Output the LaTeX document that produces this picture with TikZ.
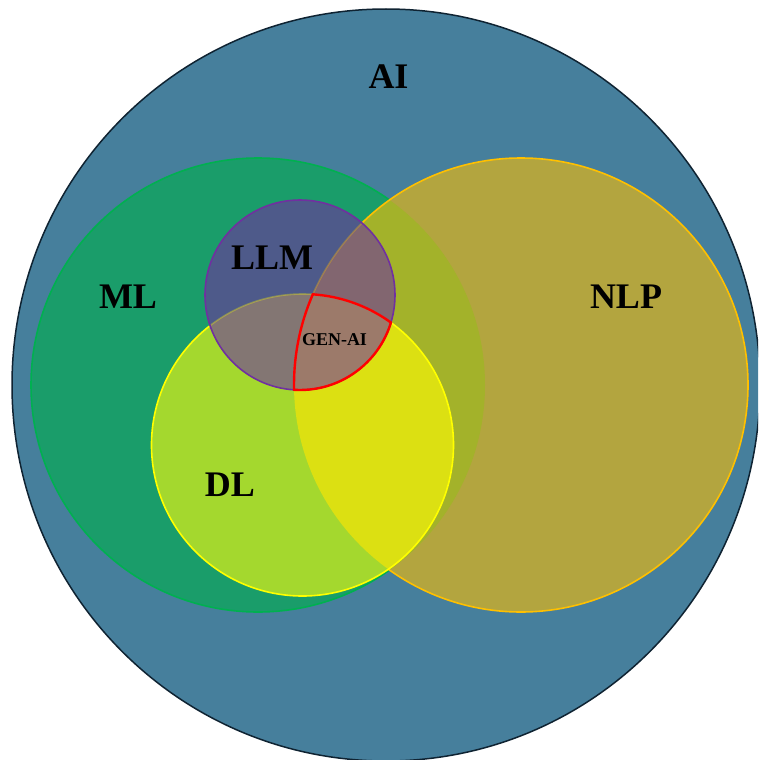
\documentclass[tikz,border=0pt]{standalone}
\usepackage{fontspec}
\setmainfont{Liberation Serif}
\definecolor{aiC}{RGB}{70,127,156}
\definecolor{aiE}{RGB}{15,35,50}
\definecolor{mlC}{RGB}{26,157,106}
\definecolor{mlE}{RGB}{0,176,80}
\definecolor{nlpC}{RGB}{179,165,63}
\definecolor{nlpE}{RGB}{255,192,0}
\definecolor{mlnlpC}{RGB}{163,178,42}
\definecolor{dlC}{RGB}{164,216,46}
\definecolor{dlE}{RGB}{255,255,0}
\definecolor{dlnlpC}{RGB}{220,224,18}
\definecolor{llmC}{RGB}{78,90,138}
\definecolor{llmE}{RGB}{112,48,160}
\definecolor{llmnlpC}{RGB}{130,102,112}
\definecolor{llmdlC}{RGB}{131,118,115}
\definecolor{genC}{RGB}{156,122,106}
\begin{document}
\begin{tikzpicture}[x=1pt,y=-1pt,
  lab/.style={font=\fontsize{36}{40}\selectfont\bfseries, anchor=base, inner sep=0pt, text=black},
  smalllab/.style={font=\fontsize{18}{20}\selectfont\bfseries, anchor=base, inner sep=0pt, text=black},
  edge/.style={line width=1.6pt}]
\useasboundingbox (0,0) rectangle (758,760);
\clip (0,0) rectangle (758,760);
\coordinate (cAI) at (386,385);
\coordinate (cML) at (258,385);
\coordinate (cNLP) at (521,385);
\coordinate (cDL) at (302.5,445);
\coordinate (cLLM) at (300,295);
% AI
\filldraw[fill=aiC, draw=aiE, line width=1.5pt] (cAI) ellipse [x radius=374pt, y radius=376pt];
% ML
\filldraw[fill=mlC, draw=mlE, edge] (cML) circle [radius=227pt];
% NLP
\fill[nlpC] (cNLP) circle [radius=227pt];
\begin{scope}
  \clip (cML) circle [radius=227pt];
  \fill[mlnlpC] (cNLP) circle [radius=227pt];
\end{scope}
\draw[nlpE, edge] (cNLP) circle [radius=227pt];
% DL
\fill[dlC] (cDL) circle [radius=151pt];
\begin{scope}
  \clip (cNLP) circle [radius=227pt];
  \fill[dlnlpC] (cDL) circle [radius=151pt];
\end{scope}
\draw[dlE, edge] (cDL) circle [radius=151pt];
% LLM
\fill[llmC] (cLLM) circle [radius=95pt];
\begin{scope}
  \clip (cLLM) circle [radius=95pt];
  \fill[llmnlpC] (cNLP) circle [radius=227pt];
  \fill[llmdlC] (cDL) circle [radius=151pt];
  \begin{scope}
    \clip (cDL) circle [radius=151pt];
    \fill[genC] (cNLP) circle [radius=227pt];
  \end{scope}
  \draw[nlpE, edge, opacity=0.3] (cNLP) circle [radius=227pt];
  \draw[dlE, edge, opacity=0.3] (cDL) circle [radius=151pt];
\end{scope}
\draw[llmE, edge] (cLLM) circle [radius=95pt];
% GEN-AI red outline
\begin{scope}
  \clip (cLLM) circle [radius=96pt];
  \clip (cNLP) circle [radius=228pt];
  \draw[red, line width=2.4pt] (cDL) circle [radius=151pt];
\end{scope}
\begin{scope}
  \clip (cLLM) circle [radius=96pt];
  \clip (cDL) circle [radius=152pt];
  \draw[red, line width=2.4pt] (cNLP) circle [radius=227pt];
\end{scope}
\begin{scope}
  \clip (cDL) circle [radius=152pt];
  \clip (cNLP) circle [radius=228pt];
  \draw[red, line width=2.4pt] (cLLM) circle [radius=95pt];
\end{scope}
% labels
\node[lab] (tAI) at (388.5,88.5) {AI};
\node[lab] (tML) at (128,308) {ML};
\node[lab] (tNLP) at (626,308) {NLP};
\node[lab] (tLLM) at (272,269) {LLM};
\node[lab] (tDL) at (230,496.5) {DL};
\node[smalllab] (tGEN) at (334.5,345) {GEN-AI};
\end{tikzpicture}
\end{document}
